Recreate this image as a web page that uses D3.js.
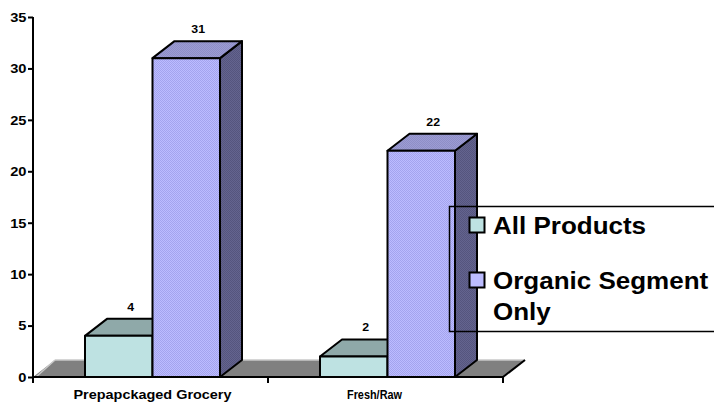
<!DOCTYPE html>
<html><head><meta charset="utf-8">
<script src="https://cdn.jsdelivr.net/npm/d3@7/dist/d3.min.js"></script>
<style>
body{margin:0;background:#fff}
svg{display:block}
text{font-family:"Liberation Sans",Arial,sans-serif;font-weight:bold;fill:#000}
</style>
</head><body>
<svg id="chart" width="714" height="402"></svg>
<script>
// ---- data ----
const categories = ["Prepapckaged Grocery", "Fresh/Raw"];
const seriesNames = ["All Products", "Organic Segment Only"];
const allProducts = [4, 2];
const organicOnly = [31, 22];
const yTicks = [0, 5, 10, 15, 20, 25, 30, 35];
const legendLines = [["All Products"], ["Organic Segment", "Only"]];

// ---- layout / style ----
const svg = d3.select("#chart");
const X0 = 33, X1 = 503, Y0 = 377, YTOP = 17;
const DX = 22, DY = -17;
const y = d3.scaleLinear().domain([0, 35]).range([Y0, YTOP]);
const xCat = d3.scaleBand().domain(categories).range([X0, X1]);
const xSer = d3.scaleBand().domain(seriesNames).range([52, 187]);
const catLabelShift = [2, -11];
const catLabelWidth = [158, 55];

const defs = svg.append("defs");
function dither(id, a, b) {
  const p = defs.append("pattern").attr("id", id).attr("patternUnits", "userSpaceOnUse")
    .attr("width", 2).attr("height", 2);
  p.append("rect").attr("width", 2).attr("height", 2).attr("fill", a);
  p.append("rect").attr("width", 1).attr("height", 1).attr("fill", b);
  p.append("rect").attr("x", 1).attr("y", 1).attr("width", 1).attr("height", 1).attr("fill", b);
}
dither("orgFront", "#BCBCFF", "#A4A4EE");
dither("orgSide", "#64648F", "#55557E");
dither("orgTop", "#9C9CD4", "#8E8EC6");

const styles = {
  "All Products": {front: "#BEE2E2", top: "#8FA9A9", side: "#6F8A8A"},
  "Organic Segment Only": {front: "url(#orgFront)", top: "url(#orgTop)", side: "url(#orgSide)"}
};

function stretch(sel, f) {
  sel.each(function () {
    const w = this.getComputedTextLength();
    d3.select(this).attr("textLength", w * f).attr("lengthAdjust", "spacingAndGlyphs");
  });
}

// ---- floor ----
const floor = svg.append("g");
floor.append("polygon")
  .attr("points", [[X0, Y0], [X1, Y0], [X1 + DX, Y0 + DY], [X0 + DX, Y0 + DY]].map(p => p.join(",")).join(" "))
  .attr("fill", "#808080");
floor.append("line").attr("x1", X0 + DX).attr("y1", Y0 + DY).attr("x2", X1 + DX).attr("y2", Y0 + DY)
  .attr("stroke", "#c8c8c8").attr("stroke-width", 1.5);
floor.append("line").attr("x1", X0 + 3).attr("y1", Y0).attr("x2", X0 + DX).attr("y2", Y0 + DY)
  .attr("stroke", "#c8c8c8").attr("stroke-width", 1.5);
floor.append("line").attr("x1", X1).attr("y1", Y0).attr("x2", X1 + DX).attr("y2", Y0 + DY)
  .attr("stroke", "#000").attr("stroke-width", 2);

// ---- bars ----
const rows = [];
categories.forEach((c, i) => {
  rows.push({cat: c, ser: seriesNames[0], v: allProducts[i]});
  rows.push({cat: c, ser: seriesNames[1], v: organicOnly[i]});
});
const bars = svg.append("g");
rows.forEach(d => {
  const x = xCat(d.cat) + xSer(d.ser), w = xSer.bandwidth();
  const yt = y(d.v), yb = y(0);
  const st = styles[d.ser];
  const g = bars.append("g").attr("stroke", "#000").attr("stroke-width", 2).attr("stroke-linejoin", "round");
  const pts = a => a.map(p => p.join(",")).join(" ");
  g.append("polygon").attr("points", pts([[x + w, yt], [x + w + DX, yt + DY], [x + w + DX, yb + DY], [x + w, yb]])).attr("fill", st.side);
  g.append("polygon").attr("points", pts([[x, yt], [x + DX, yt + DY], [x + w + DX, yt + DY], [x + w, yt]])).attr("fill", st.top);
  g.append("rect").attr("x", x).attr("y", yt).attr("width", w).attr("height", yb - yt).attr("fill", st.front);
  d.lx = x + (w + DX) / 2 + 1; d.ly = yt + DY - 8;
});

// value labels
const vl = svg.append("g").selectAll("text").data(rows).join("text")
  .attr("x", d => d.lx).attr("y", d => d.ly).attr("text-anchor", "middle")
  .attr("font-size", 11).text(d => d.v);
stretch(vl, 1.12);

// ---- axes ----
const yAxis = svg.append("g").attr("transform", `translate(${X0},0)`)
  .call(d3.axisLeft(y).tickValues(yTicks).tickSize(5).tickSizeOuter(0).tickPadding(1.5));
yAxis.select(".domain").attr("stroke", "#000").attr("stroke-width", 2)
  .attr("d", `M0,${YTOP}V${Y0 + 5}`);
yAxis.selectAll(".tick line").attr("stroke", "#000").attr("stroke-width", 2);
const yt = yAxis.selectAll(".tick text").attr("font-size", 12).attr("font-family", null).attr("fill", "#000")
  .attr("dy", "0.36em");
stretch(yt, 1.22);

const xAxis = svg.append("g");
xAxis.append("line").attr("x1", X0).attr("x2", X1).attr("y1", Y0).attr("y2", Y0)
  .attr("stroke", "#000").attr("stroke-width", 2);
const bounds = categories.map(c => xCat(c)).concat([X1]);
xAxis.selectAll("line.tk").data(bounds).join("line").attr("class", "tk")
  .attr("x1", d => d).attr("x2", d => d).attr("y1", Y0).attr("y2", Y0 + 6)
  .attr("stroke", "#000").attr("stroke-width", 2);
xAxis.selectAll("text").data(categories).join("text")
  .attr("x", (d, i) => xCat(d) + xCat.bandwidth() / 2 + catLabelShift[i])
  .attr("y", 398.5).attr("text-anchor", "middle").attr("font-size", 12.5)
  .attr("textLength", (d, i) => catLabelWidth[i]).attr("lengthAdjust", "spacingAndGlyphs")
  .text(d => d);

// ---- legend ----
const lg = svg.append("g");
lg.append("rect").attr("x", 449.5).attr("y", 206.5).attr("width", 300).attr("height", 125)
  .attr("fill", "none").attr("stroke", "#000").attr("stroke-width", 1.5);
const legY = [217, 272];
seriesNames.forEach((s, i) => {
  lg.append("rect").attr("x", 469.5).attr("y", legY[i] + 0.5).attr("width", 15).attr("height", 15)
    .attr("fill", s === seriesNames[0] ? styles[s].front : "#BCBCFF")
    .attr("stroke", "#000").attr("stroke-width", 2);
  const t = lg.append("g").selectAll("text").data(legendLines[i]).join("text")
    .attr("x", 493).attr("y", (d, j) => legY[i] + 16.5 + j * 31)
    .attr("font-size", 23).text(d => d);
  stretch(t, 1.13);
});
</script>
</body></html>
